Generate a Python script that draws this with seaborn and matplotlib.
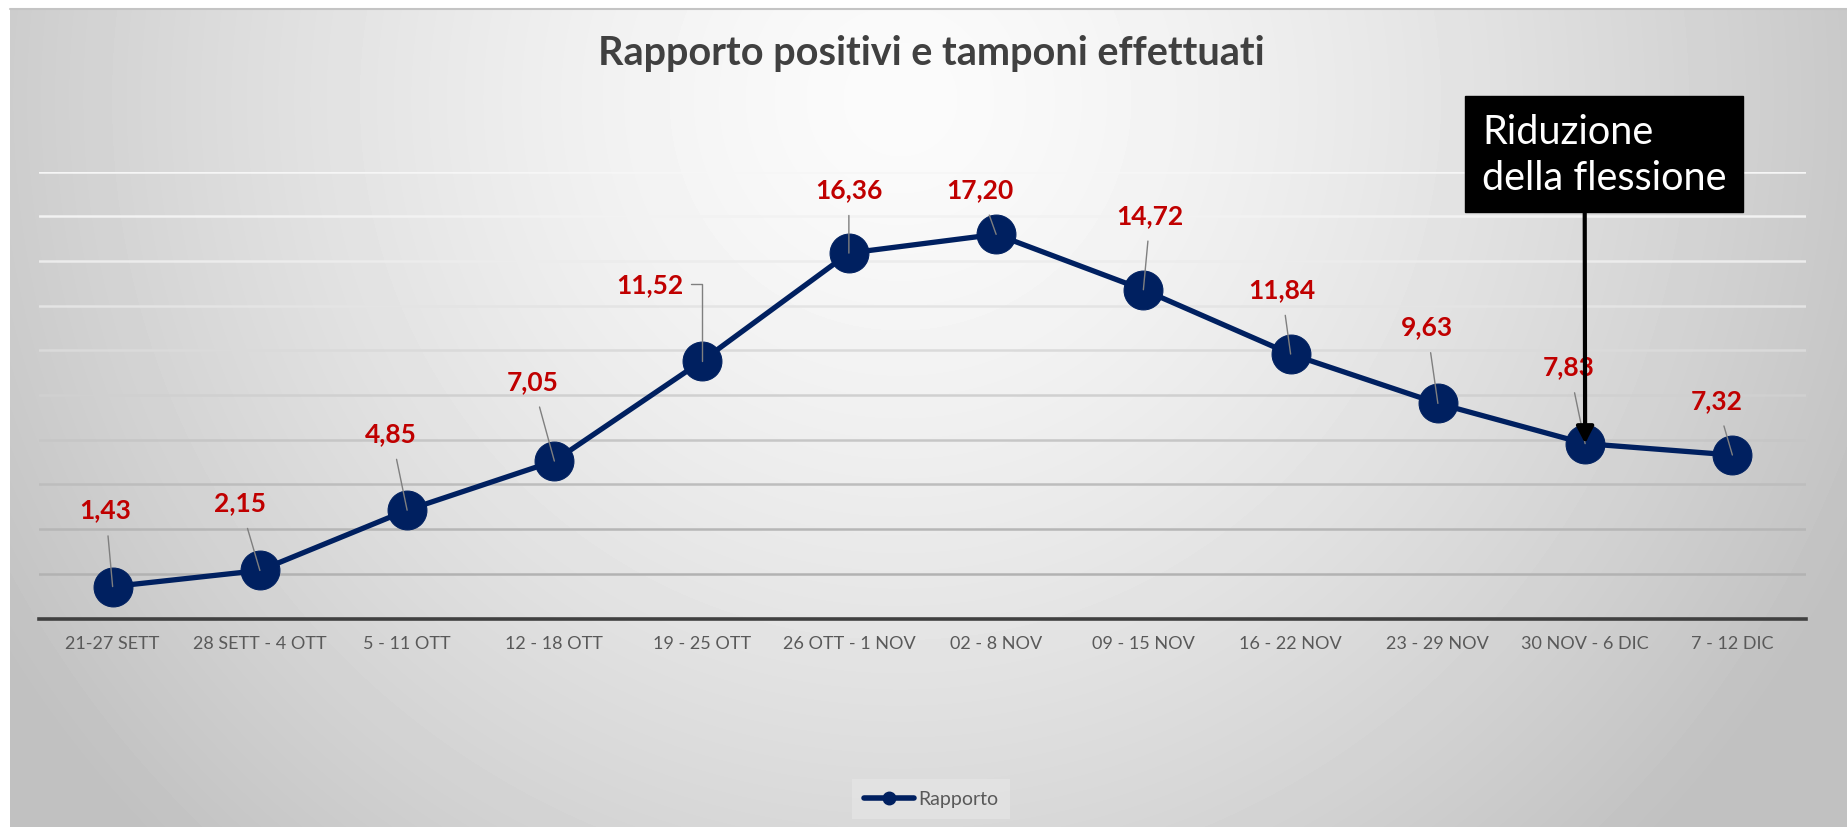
import numpy as np
import pandas as pd
import matplotlib
matplotlib.use("Agg")
import matplotlib.pyplot as plt
from matplotlib.lines import Line2D
import seaborn as sns

settimane = ["21-27 SETT", "28 SETT - 4 OTT", "5 - 11 OTT", "12 - 18 OTT", "19 - 25 OTT",
             "26 OTT - 1 NOV", "02 - 8 NOV", "09 - 15 NOV", "16 - 22 NOV", "23 - 29 NOV",
             "30 NOV - 6 DIC", "7 - 12 DIC"]
rapporto = [1.43, 2.15, 4.85, 7.05, 11.52, 16.36, 17.20, 14.72, 11.84, 9.63, 7.83, 7.32]
nota = "Riduzione\ndella flessione"
nota_idx = 10

# where each red label sits relative to its point (pixels)
offsets = [(-7, 77), (-20, 68), (-16, 77), (-22, 80), (-52, 77), (0, 64),
           (-16, 45), (7, 75), (-9, 65), (-11, 77), (-16, 77), (-16, 55)]

# gridlines fade from grey (bottom) to almost white (top)
grid_levels = list(range(2, 21, 2))
grid_colors = ["#b2b2b2", "#b6b6b6", "#bdbdbd", "#c6c6c6", "#d0d0d0",
               "#dadada", "#e4e4e4", "#ececec", "#f2f2f2", "#f6f6f6"]

BLU = "#002060"
ROSSO = "#C00000"
W, H = 1847, 828

sns.set_theme(style="white")
plt.rcParams["font.family"] = ["Lato", "DejaVu Sans"]

fig = plt.figure(figsize=(W / 100, H / 100), dpi=100)

# soft radial grey background like the Excel chart area
bg = fig.add_axes([10 / W, 0, 1 - 10 / W, 1 - 10 / H], zorder=-10)
yy, xx = np.mgrid[0:H - 10, 0:W - 10]
d = np.sqrt(((xx + 10 - 900) / 1050.0) ** 2 + ((yy + 10 - 100) / 1050.0) ** 2)
shade = np.clip(251 - 58 * d ** 1.4, 193, 251) / 255.0
bg.imshow(shade, cmap="gray", vmin=0, vmax=1, aspect="auto", extent=(0, 1, 0, 1))
bg.axis("off")
fig.add_artist(Line2D([10 / W, 1], [1 - 9.5 / H] * 2, color="#c4c4c4", lw=1.5))

ax = fig.add_axes([39 / W, 208.5 / H, 1767 / W, 446.7 / H])
ax.patch.set_alpha(0)

df = pd.DataFrame({"settimana": settimane, "rapporto": rapporto})
sns.lineplot(data=df, x="settimana", y="rapporto", ax=ax, sort=False, color=BLU,
             linewidth=3.8, marker="o", markersize=28, markeredgecolor=BLU,
             legend=False, zorder=3)

ax.set_xlim(-0.5, len(settimane) - 0.5)
ax.set_ylim(0, 20)
ax.set_yticks(grid_levels)
ax.set_yticklabels([])
ax.grid(False)
for lvl, c in zip(grid_levels, grid_colors):
    ax.axhline(lvl, color=c, lw=1.8, zorder=1)
for s in ["left", "right", "top"]:
    ax.spines[s].set_visible(False)
ax.spines["bottom"].set_color("#404040")
ax.spines["bottom"].set_linewidth(2.6)
ax.tick_params(axis="y", left=False)
ax.tick_params(axis="x", length=0, pad=12, labelsize=13, labelcolor="#595959")
ax.set_xlabel("")
ax.set_ylabel("")

for i, v in enumerate(rapporto):
    dx, dy = offsets[i]
    props = dict(arrowstyle="-", color="#7f7f7f", lw=1.0, shrinkA=8, shrinkB=0)
    if i == 4:
        props.update(connectionstyle="angle,angleA=0,angleB=90,rad=0", relpos=(1, 0.5), shrinkA=3)
    ax.annotate(f"{v:.2f}".replace(".", ","), xy=(i, v), xytext=(dx, dy),
                textcoords="offset pixels", ha="center", va="center",
                fontsize=19, fontweight="bold", color=ROSSO,
                arrowprops=props, zorder=5)

ax.annotate(nota, xy=(nota_idx, rapporto[nota_idx]), xytext=(1482 / W, 673 / H),
            textcoords="figure fraction", ha="left", va="center", fontsize=28.5,
            color="white", linespacing=1.3,
            bbox=dict(boxstyle="square,pad=0.42", fc="black", ec="black"),
            arrowprops=dict(arrowstyle="-|>,head_length=0.35,head_width=0.18", color="black",
                            lw=3, relpos=(0.42, 0), shrinkA=0, shrinkB=0),
            zorder=6, annotation_clip=False)

fig.text(931 / W, 1 - 54 / H, "Rapporto positivi e tamponi effettuati", ha="center",
         va="center", fontsize=28.5, fontweight="bold", color="#404040")

handle = Line2D([], [], color=BLU, lw=4, marker="o", markersize=9)
fig.legend(handles=[handle], labels=["Rapporto"], loc="center",
           bbox_to_anchor=(931 / W, 1 - 800 / H), frameon=True, facecolor="#e4e4e4",
           edgecolor="none", fancybox=False, fontsize=14, handlelength=2.6,
           handletextpad=0.2, borderpad=0.6, labelcolor="#595959")

fig.savefig("out.png", dpi=100)
